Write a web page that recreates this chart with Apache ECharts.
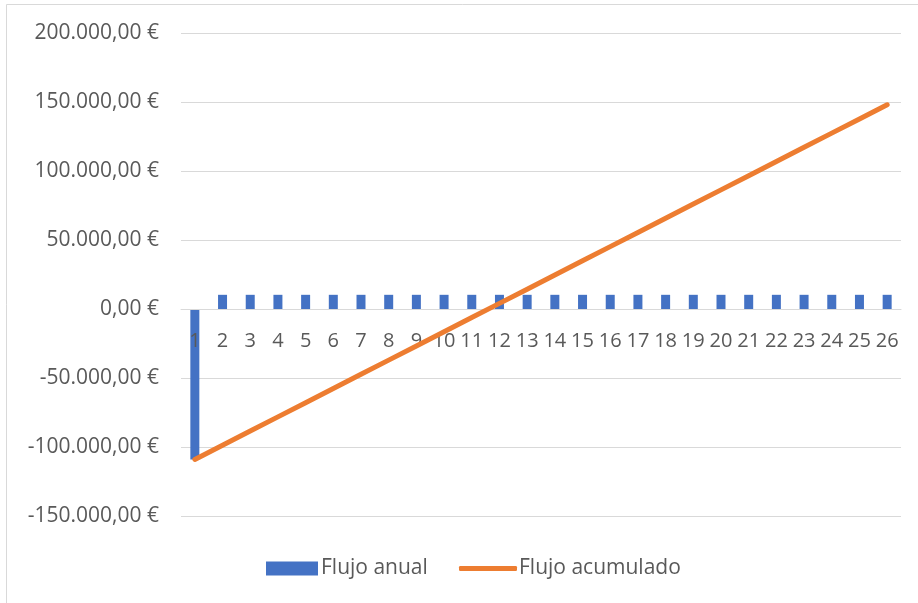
<!DOCTYPE html>
<html>
<head>
<meta charset="utf-8">
<script src="https://cdn.jsdelivr.net/npm/echarts@6/dist/echarts.min.js"></script>
<style>
  html, body { margin: 0; padding: 0; background: #fff; }
  #chart { width: 918px; height: 603px; }
</style>
</head>
<body>
<div id="chart"></div>
<script>
// Years of the project
const years = ['1','2','3','4','5','6','7','8','9','10','11','12','13','14','15','16','17','18','19','20','21','22','23','24','25','26'];

// Annual cash flow (investment in year 1, then yearly return)
const flujoAnual = [-109000, 10280, 10280, 10280, 10280, 10280, 10280, 10280, 10280, 10280,
  10280, 10280, 10280, 10280, 10280, 10280, 10280, 10280, 10280, 10280,
  10280, 10280, 10280, 10280, 10280, 10280];

// Accumulated cash flow
const flujoAcumulado = [-109000, -98720, -88440, -78160, -67880, -57600, -47320, -37040, -26760, -16480,
  -6200, 4080, 14360, 24640, 34920, 45200, 55480, 65760, 76040, 86320,
  96600, 106880, 117160, 127440, 137720, 148000];

// Value axis range
const yMin = -150000;
const yMax = 200000;
const yStep = 50000;

function euro(v) {
  const neg = v < 0;
  const s = Math.abs(Math.round(v)).toString().replace(/\B(?=(\d{3})+(?!\d))/g, '.');
  return (neg ? '-' : '') + s + ',00 €';
}

const textColor = '#595959';
const font = 'Open Sans';

const gridTop = 33, gridBottom = 87, chartH = 603;
// place the category axis on the zero line of the value axis
const plotH = chartH - gridTop - gridBottom;
const zeroOffset = -plotH * (0 - yMin) / (yMax - yMin);

const chart = echarts.init(document.getElementById('chart'), null, { renderer: 'canvas' });
chart.setOption({
  animation: false,
  backgroundColor: '#fff',
  graphic: [{
    type: 'rect',
    shape: { x: 6.5, y: 4.5, width: 1000, height: 1000 },
    style: { fill: 'none', stroke: '#d9d9d9', lineWidth: 1 },
    silent: true
  }],
  grid: { left: 181, right: 17, top: gridTop, bottom: gridBottom },
  legend: [
    {
      left: 261,
      top: 553,
      itemWidth: 52,
      itemHeight: 14,
      textStyle: { color: textColor, fontSize: 21, fontFamily: font, padding: [0, 0, 0, -2] },
      data: [{ name: 'Flujo anual', icon: 'rect' }]
    },
    {
      left: 454,
      top: 553,
      itemWidth: 58,
      itemHeight: 5,
      textStyle: { color: textColor, fontSize: 21, fontFamily: font, padding: [0, 0, 0, -3] },
      data: [{ name: 'Flujo acumulado', icon: 'roundRect' }]
    }
  ],
  xAxis: {
    type: 'category',
    data: years,
    boundaryGap: true,
    offset: zeroOffset,
    z: 3,
    axisLine: { onZero: false, lineStyle: { color: '#d9d9d9', width: 1 } },
    axisTick: { show: false },
    axisLabel: { color: textColor, fontSize: 20, fontFamily: font, margin: 22, interval: 0 }
  },
  yAxis: {
    type: 'value',
    min: yMin,
    max: yMax,
    interval: yStep,
    axisLine: { show: false },
    axisTick: { show: false },
    splitLine: { lineStyle: { color: '#d9d9d9', width: 1 } },
    axisLabel: { color: textColor, fontSize: 21, fontFamily: font, margin: 22, formatter: euro }
  },
  series: [
    {
      name: 'Flujo anual',
      type: 'bar',
      data: flujoAnual,
      barWidth: 9,
      itemStyle: { color: '#4472C4' }
    },
    {
      name: 'Flujo acumulado',
      type: 'line',
      z: 4,
      data: flujoAcumulado,
      symbol: 'none',
      lineStyle: { color: '#ED7D31', width: 5, cap: 'round', join: 'round' },
      itemStyle: { color: '#ED7D31' }
    }
  ]
});
</script>
</body>
</html>
